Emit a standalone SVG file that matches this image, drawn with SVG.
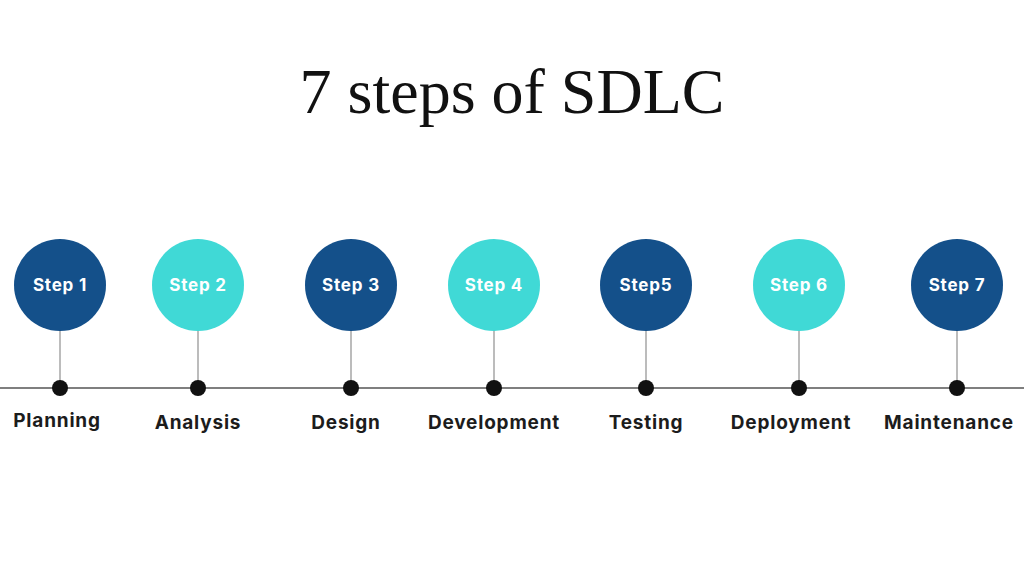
<svg xmlns="http://www.w3.org/2000/svg" width="1024" height="569" viewBox="0 0 1024 569">
<style>
.dark{fill:#14508a}
.light{fill:#40d9d6}
.step{font-family:Inter,"Liberation Sans",sans-serif;font-weight:700;font-size:17px;letter-spacing:0.8px;fill:#ffffff;text-anchor:middle}
.lbl{font-family:Inter,"Liberation Sans",sans-serif;font-weight:700;font-size:19px;letter-spacing:0.8px;fill:#1c1c1c;text-anchor:middle}
.stem{stroke:#a6a6a6;stroke-width:1.5}
.dot{fill:#111111}
.title{font-family:"Liberation Serif",serif;font-size:64px;fill:#111111;text-anchor:middle}
</style>
<rect width="1024" height="569" fill="#ffffff"/>
<text class="title" x="512" y="113">7 steps of SDLC</text>
<g id="connectors">
<line x1="0" y1="388" x2="1024" y2="388" stroke="#555555" stroke-width="1.5"/>
<line class="stem" x1="60" y1="330" x2="60" y2="388"/>
<line class="stem" x1="198" y1="330" x2="198" y2="388"/>
<line class="stem" x1="351" y1="330" x2="351" y2="388"/>
<line class="stem" x1="494" y1="330" x2="494" y2="388"/>
<line class="stem" x1="646" y1="330" x2="646" y2="388"/>
<line class="stem" x1="799" y1="330" x2="799" y2="388"/>
<line class="stem" x1="957" y1="330" x2="957" y2="388"/>
</g>
<g id="step1"><circle class="dark" cx="60" cy="285" r="46"/><text class="step" x="60" y="291">Step 1</text><circle class="dot" cx="60" cy="388" r="8"/><text class="lbl" x="57" y="427">Planning</text></g>
<g id="step2"><circle class="light" cx="198" cy="285" r="46"/><text class="step" x="198" y="291">Step 2</text><circle class="dot" cx="198" cy="388" r="8"/><text class="lbl" x="198" y="429">Analysis</text></g>
<g id="step3"><circle class="dark" cx="351" cy="285" r="46"/><text class="step" x="351" y="291">Step 3</text><circle class="dot" cx="351" cy="388" r="8"/><text class="lbl" x="346" y="429">Design</text></g>
<g id="step4"><circle class="light" cx="494" cy="285" r="46"/><text class="step" x="494" y="291">Step 4</text><circle class="dot" cx="494" cy="388" r="8"/><text class="lbl" x="494" y="429">Development</text></g>
<g id="step5"><circle class="dark" cx="646" cy="285" r="46"/><text class="step" x="646" y="291">Step5</text><circle class="dot" cx="646" cy="388" r="8"/><text class="lbl" x="646" y="429">Testing</text></g>
<g id="step6"><circle class="light" cx="799" cy="285" r="46"/><text class="step" x="799" y="291">Step 6</text><circle class="dot" cx="799" cy="388" r="8"/><text class="lbl" x="791" y="429">Deployment</text></g>
<g id="step7"><circle class="dark" cx="957" cy="285" r="46"/><text class="step" x="957" y="291">Step 7</text><circle class="dot" cx="957" cy="388" r="8"/><text class="lbl" x="949" y="429">Maintenance</text></g>
</svg>
